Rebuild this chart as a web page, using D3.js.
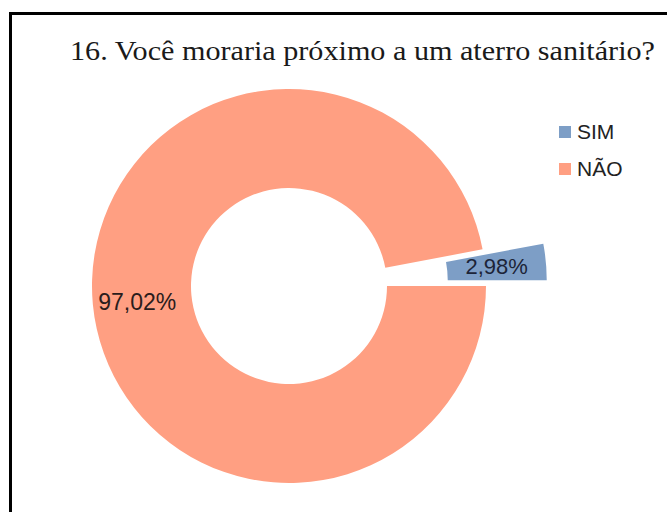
<!DOCTYPE html>
<html>
<head>
<meta charset="utf-8">
<script src="https://cdn.jsdelivr.net/npm/d3@7"></script>
<style>
  html, body { margin: 0; padding: 0; background: #fff; }
  svg { display: block; }
</style>
</head>
<body>
<svg id="chart" width="667" height="512"></svg>
<script>
// Survey answers for question 16
const categories = ["SIM", "NÃO"];
const values = [2.98, 97.02];
const valueLabels = ["2,98%", "97,02%"];
const colors = ["#7d9ec6", "#ff9f82"];
const title = "16. Você moraria próximo a um aterro sanitário?";

const svg = d3.select("#chart");
const W = 667, H = 512;

// outer frame (only top and left edges fall inside the page)
svg.append("rect")
  .attr("x", 10.5).attr("y", 13.5)
  .attr("width", W + 20).attr("height", H + 20)
  .attr("fill", "#fff")
  .attr("stroke", "#000")
  .attr("stroke-width", 3);

// title
svg.append("text")
  .attr("x", 70).attr("y", 60)
  .attr("font-family", "'Liberation Serif', 'Times New Roman', serif")
  .attr("font-size", 27)
  .attr("textLength", 585)
  .attr("lengthAdjust", "spacingAndGlyphs")
  .attr("fill", "#1a1a1a")
  .text(title);

// donut
const cx = 289, cy = 286;
const outerR = 197, innerR = 98;
const explode = 61;

const total = d3.sum(values);
const start = Math.PI / 2 - (values[0] / total) * 2 * Math.PI;
const pie = d3.pie().sort(null)
  .startAngle(start)
  .endAngle(start + 2 * Math.PI);
const arcs = pie(values);
const arc = d3.arc().innerRadius(innerR).outerRadius(outerR);

const g = svg.append("g").attr("transform", `translate(${cx},${cy})`);

arcs.forEach((a, i) => {
  const mid = (a.startAngle + a.endAngle) / 2;
  const off = i === 0 ? explode : 0;
  const dx = Math.sin(mid) * off, dy = -Math.cos(mid) * off;
  g.append("path")
    .attr("transform", `translate(${dx},${dy})`)
    .attr("d", arc(a))
    .attr("fill", colors[i]);
});

// value labels
const labelFont = "'Liberation Sans', Arial, sans-serif";
// SIM label sits on its exploded slice
{
  const a = arcs[0];
  const mid = (a.startAngle + a.endAngle) / 2;
  const r = (innerR + outerR) / 2 + explode;
  g.append("text")
    .attr("x", Math.sin(mid) * r)
    .attr("y", -Math.cos(mid) * r)
    .attr("dy", "0.35em")
    .attr("text-anchor", "middle")
    .attr("font-family", labelFont)
    .attr("font-size", 22)
    .attr("fill", "#1c2438")
    .text(valueLabels[0]);
}
// NÃO label on the left side of the ring
{
  const a = arcs[1];
  const mid = (a.startAngle + a.endAngle) / 2;
  const r = (innerR + outerR) / 2 + 5;
  g.append("text")
    .attr("x", Math.sin(mid) * r)
    .attr("y", -Math.cos(mid) * r + 2)
    .attr("dy", "0.35em")
    .attr("text-anchor", "middle")
    .attr("font-family", labelFont)
    .attr("font-size", 23)
    .attr("fill", "#2a1c1c")
    .text(valueLabels[1]);
}

// legend
const legend = svg.append("g").attr("transform", "translate(559,126)");
categories.forEach((c, i) => {
  const row = legend.append("g").attr("transform", `translate(0,${i * 37})`);
  row.append("rect")
    .attr("x", 0).attr("y", 0)
    .attr("width", 12).attr("height", 12)
    .attr("fill", colors[i]);
  row.append("text")
    .attr("x", 18).attr("y", 6)
    .attr("dy", "0.35em")
    .attr("font-family", labelFont)
    .attr("font-size", 21)
    .attr("fill", "#222")
    .text(c);
});
</script>
</body>
</html>
